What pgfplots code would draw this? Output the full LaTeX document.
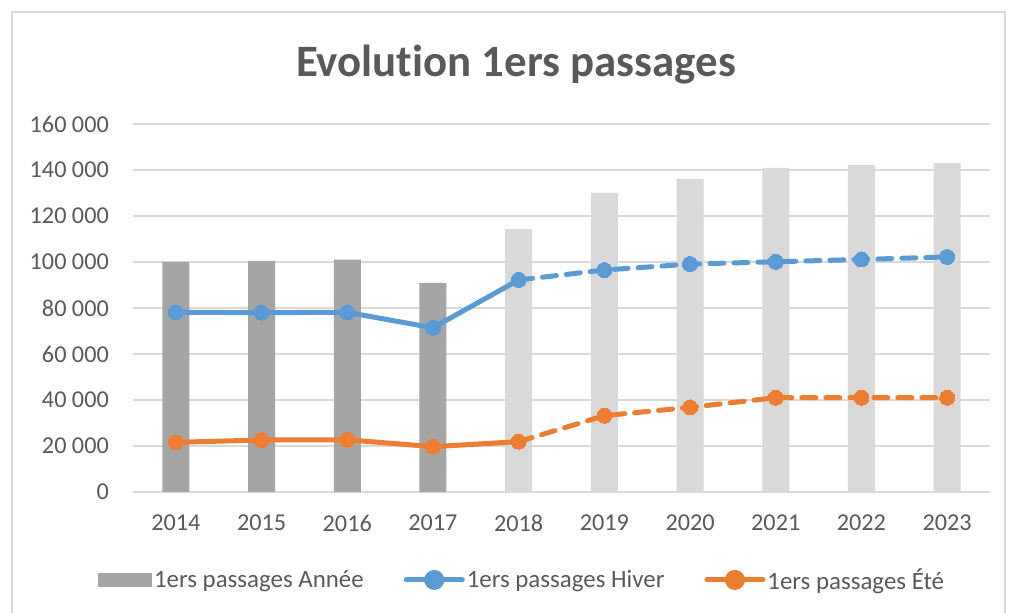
\documentclass[border=0pt]{standalone}
\usepackage{pgfplots}
\pgfplotsset{compat=1.18}
\usepackage{fontspec}
\setmainfont{Carlito}[Ligatures={NoCommon}]
\definecolor{txt}{HTML}{595959}
\definecolor{gridc}{HTML}{D9D9D9}
\definecolor{darkbar}{HTML}{A5A5A5}
\definecolor{lightbar}{HTML}{D9D9D9}
\definecolor{blu}{HTML}{5B9BD5}
\definecolor{ora}{HTML}{ED7D31}
\begin{document}
\begin{tikzpicture}
\useasboundingbox (0,0) rectangle (1012bp,613bp);
\draw[gridc, line width=1.2bp] (12bp,0) -- (12bp,601bp) -- (1005bp,601bp) -- (1005bp,0);
\node[font=\fontsize{45}{54}\selectfont\bfseries, text=txt] at (516bp,548bp) {Evolution 1ers passages};
\begin{axis}[
  at={(133bp,121bp)}, anchor=south west,
  scale only axis, width=857bp, height=368bp,
  xmin=-0.5, xmax=9.5, ymin=0, ymax=160000,
  scaled y ticks=false,
  xtick={0,...,9},
  xticklabels={2014,2015,2016,2017,2018,2019,2020,2021,2022,2023},
  ytick={0,20000,...,160000},
  yticklabels={0,20 000,40 000,60 000,80 000,100 000,120 000,140 000,160 000},
  /pgf/number format/assume math mode=true,
  tick style={draw=none},
  ymajorgrids, grid style={gridc, line width=1.6bp},
  axis line style={draw=none},
  axis x line*=bottom, axis y line*=left,
  tick label style={font=\fontsize{24.3}{28}\selectfont, text=txt, inner sep=0pt},
  xticklabel style={yshift=-23bp},
  yticklabel style={xshift=-24bp},
  clip=false,
  legend columns=3,
  legend style={draw=none, fill=none, at={(0.454,-0.239)}, anchor=center,
    font=\fontsize{25}{29}\selectfont, text=txt,
    /tikz/every even column/.append style={column sep=38bp}},
  legend cell align=left,
]
\draw[gridc, line width=1.6bp] (axis cs:-0.5,0) -- (axis cs:9.5,0);
\addplot[ybar, bar width=27bp, bar shift=0pt, fill=darkbar, draw=none,
  legend image code/.code={\fill[darkbar] (-2bp,-7bp) rectangle (52bp,7bp);}]
  coordinates {(0,100000) (1,100500) (2,101000) (3,90900)};
\addlegendentry{1ers passages Année}
\addplot[ybar, bar width=27bp, bar shift=0pt, fill=lightbar, draw=none, forget plot]
  coordinates {(4,114300) (5,130000) (6,136100) (7,140900) (8,142200) (9,143000)};
\addplot[blu, line width=5bp, mark=*, mark size=7.5bp, mark options={solid, fill=blu, draw=blu, line width=0pt},
  legend image code/.code={\draw[blu, line width=5bp, line cap=round] (-2bp,0) -- (54bp,0); \fill[blu] (26bp,0) circle (7.5bp);}]
  coordinates {(0,78100) (1,78000) (2,78100) (3,71400) (4,92200)};
\addlegendentry{1ers passages Hiver}
\addplot[blu, line width=5bp, line cap=round, dash pattern=on 14bp off 10bp, mark=*, mark size=7.5bp, mark options={solid, fill=blu, draw=blu, line width=0pt}, forget plot]
  coordinates {(4,92200) (5,96500) (6,99100) (7,100100) (8,101100) (9,102200)};
\addplot[ora, line width=5bp, mark=*, mark size=7.5bp, mark options={solid, fill=ora, draw=ora, line width=0pt},
  legend image code/.code={\draw[ora, line width=5bp, line cap=round] (-2bp,0) -- (54bp,0); \fill[ora] (26bp,0) circle (7.5bp);}]
  coordinates {(0,21600) (1,22600) (2,22700) (3,19700) (4,21900)};
\addlegendentry{1ers passages Été}
\addplot[ora, line width=5bp, line cap=round, dash pattern=on 14bp off 10bp, mark=*, mark size=7.5bp, mark options={solid, fill=ora, draw=ora, line width=0pt}, forget plot]
  coordinates {(4,21900) (5,33200) (6,36800) (7,41000) (8,41000) (9,41000)};
\end{axis}
\end{tikzpicture}
\end{document}
